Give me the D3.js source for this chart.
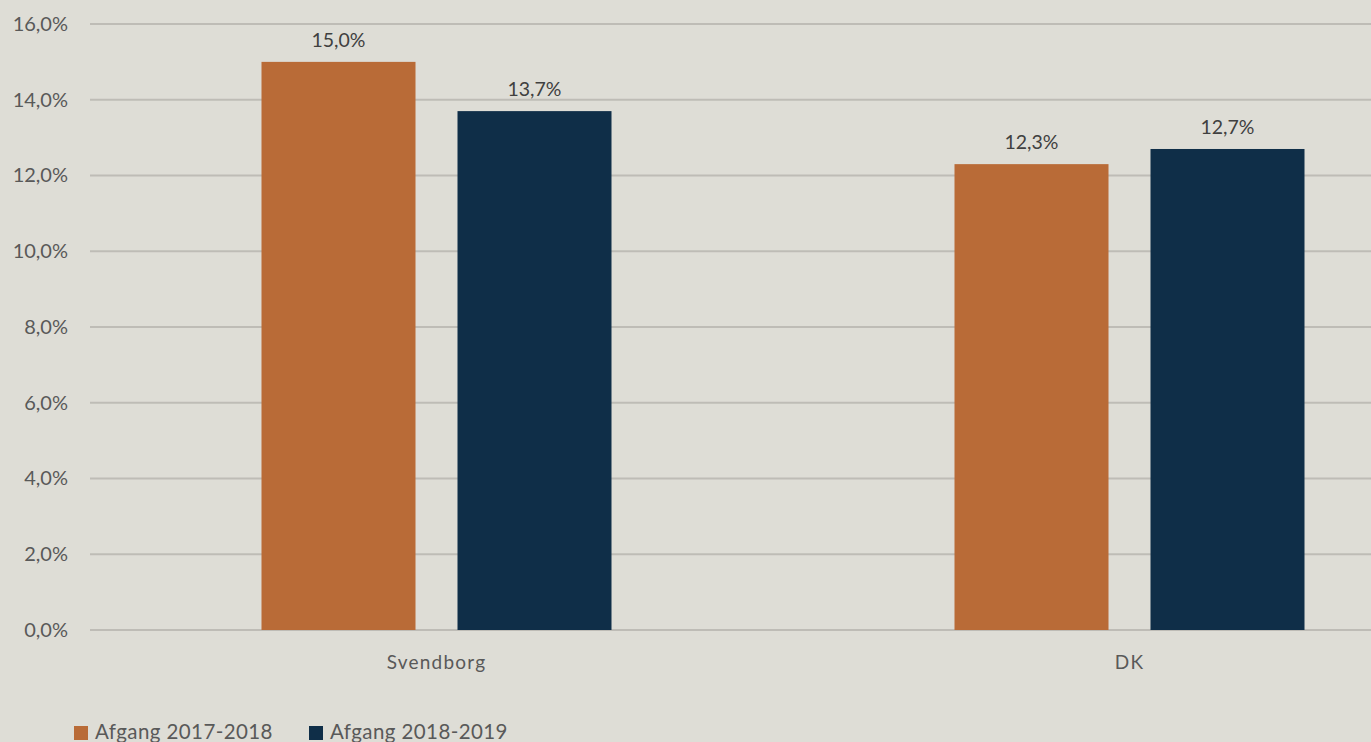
<!DOCTYPE html>
<html>
<head>
<meta charset="utf-8">
<script src="https://cdn.jsdelivr.net/npm/d3@7"></script>
<style>
  html, body { margin: 0; padding: 0; background: #deddd6; }
  svg { display: block; }
  text { font-family: Lato, "Open Sans", "Liberation Sans", sans-serif; }
</style>
</head>
<body>
<svg id="chart" width="1371" height="742"></svg>
<script>
// Afgang (attrition) share by area and period
const categories = ["Svendborg", "DK"];
const seriesNames = ["Afgang 2017-2018", "Afgang 2018-2019"];
const afgang20172018 = [15.0, 12.3];
const afgang20182019 = [13.7, 12.7];
const yTicks = [0, 2, 4, 6, 8, 10, 12, 14, 16];
const colors = ["#b96b37", "#0f2e48"];

const seriesValues = [afgang20172018, afgang20182019];

const svg = d3.select("#chart");
const margin = { left: 90 };
const plotRight = 1476; // plot area runs past the right edge of the view

const y = d3.scaleLinear().domain([0, 16]).range([630, 24]);
const x0 = d3.scaleBand().domain(categories).range([margin.left, plotRight]).padding(0);
const groupW = 350;
const x1 = d3.scaleBand().domain(seriesNames).range([0, groupW]).paddingInner(42 / 196).paddingOuter(0);

const fmt = v => v.toFixed(1).replace(".", ",") + "%";

// gridlines
svg.append("g")
  .selectAll("line")
  .data(yTicks)
  .join("line")
  .attr("x1", margin.left)
  .attr("x2", plotRight)
  .attr("y1", d => y(d))
  .attr("y2", d => y(d))
  .attr("stroke", "#bebcb6")
  .attr("stroke-width", 2);

// y axis labels
const yAxis = d3.axisLeft(y).tickValues(yTicks).tickFormat(fmt).tickSize(0).tickPadding(22);
const yg = svg.append("g").attr("transform", `translate(${margin.left},0)`).call(yAxis);
yg.select(".domain").remove();
yg.selectAll("text")
  .attr("fill", "#595959")
  .style("font-size", "20px")
  .style("font-family", "Lato, 'Open Sans', sans-serif");

// bars
const groups = svg.append("g")
  .selectAll("g")
  .data(categories)
  .join("g")
  .attr("transform", c => `translate(${x0(c) + (x0.bandwidth() - groupW) / 2},0)`);

groups.selectAll("rect")
  .data((c, i) => seriesNames.map((s, j) => ({ s, j, v: seriesValues[j][i] })))
  .join("rect")
  .attr("x", d => x1(d.s))
  .attr("width", x1.bandwidth())
  .attr("y", d => y(d.v))
  .attr("height", d => y(0) - y(d.v))
  .attr("fill", d => colors[d.j]);

groups.selectAll("text.val")
  .data((c, i) => seriesNames.map((s, j) => ({ s, j, v: seriesValues[j][i] })))
  .join("text")
  .attr("class", "val")
  .attr("x", d => x1(d.s) + x1.bandwidth() / 2)
  .attr("y", d => y(d.v) - 15)
  .attr("text-anchor", "middle")
  .attr("fill", "#404040")
  .style("font-size", "19.5px")
  .text(d => fmt(d.v));

// category labels
svg.append("g")
  .selectAll("text")
  .data(categories)
  .join("text")
  .attr("x", c => x0(c) + x0.bandwidth() / 2)
  .attr("y", 669)
  .attr("text-anchor", "middle")
  .attr("fill", "#595959")
  .style("font-size", "19px")
  .style("letter-spacing", "1.2px")
  .text(c => c);

// legend
const legend = svg.append("g");
const legendX = [74, 309];
seriesNames.forEach((s, j) => {
  legend.append("rect")
    .attr("x", legendX[j]).attr("y", 726)
    .attr("width", 14).attr("height", 14)
    .attr("fill", colors[j]);
  legend.append("text")
    .attr("x", legendX[j] + 21).attr("y", 739)
    .attr("fill", "#595959")
    .style("font-size", "20.5px")
    .style("letter-spacing", "0.4px")
    .text(s);
});
</script>
</body>
</html>
